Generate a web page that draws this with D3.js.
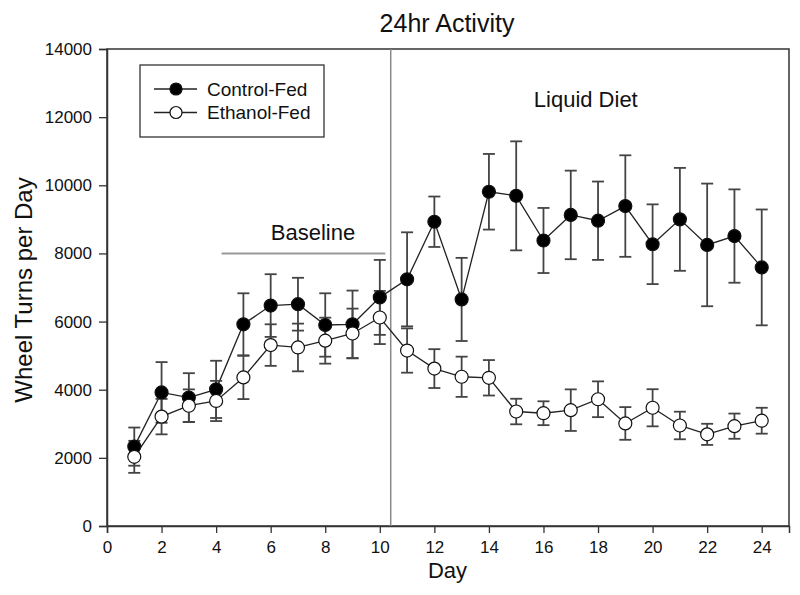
<!DOCTYPE html>
<html>
<head>
<meta charset="utf-8">
<script src="https://cdn.jsdelivr.net/npm/d3@7"></script>
<style>
  body { margin: 0; background: #fff; }
  text { font-family: "Liberation Sans", Arial, sans-serif; fill: #111; }
</style>
</head>
<body>
<div id="chart"></div>
<script>
// Days 1..24
const days = d3.range(1, 25);

// Control-Fed means and SEM (wheel turns per day)
const controlMean = [2330, 3920, 3770, 4010, 5920, 6470, 6510, 5900, 5920, 6710,
                     7240, 8930, 6650, 9810, 9690, 8380, 9130, 8960, 9390, 8270,
                     9000, 8250, 8510, 7590];
const controlErr  = [560, 890, 715, 840, 910, 920, 775, 930, 990, 1100,
                     1380, 740, 1220, 1110, 1600, 955, 1300, 1150, 1490, 1170,
                     1510, 1800, 1370, 1700];

// Ethanol-Fed means and SEM
const ethanolMean = [2030, 3210, 3530, 3670, 4360, 5310, 5240, 5440, 5650, 6120,
                     5150, 4620, 4380, 4350, 3360, 3310, 3400, 3720, 3010, 3470,
                     2950, 2690, 2930, 3090];
const ethanolErr  = [470, 520, 480, 590, 635, 610, 700, 675, 730, 780,
                     650, 570, 590, 520, 375, 350, 610, 525, 480, 545,
                     405, 310, 370, 380];

const xTicks = d3.range(0, 25, 2);
const yTicks = d3.range(0, 14001, 2000);

const width = 800, height = 595;
const margin = { top: 49, right: 11, bottom: 69, left: 107 };

const svg = d3.select('#chart').append('svg')
    .attr('width', width)
    .attr('height', height);

const x = d3.scaleLinear().domain([0, 25]).range([margin.left, width - margin.right]);
const y = d3.scaleLinear().domain([0, 14000]).range([height - margin.bottom, margin.top]);

// Frame
svg.append('rect')
    .attr('x', x(0)).attr('y', y(14000))
    .attr('width', x(25) - x(0)).attr('height', y(0) - y(14000))
    .attr('fill', 'none').attr('stroke', '#333').attr('stroke-width', 1.5);

// Axes
const xAxis = svg.append('g')
    .attr('transform', `translate(0,${y(0)})`)
    .call(d3.axisBottom(x).tickValues(xTicks).tickSize(7).tickPadding(8).tickFormat(d3.format('d')));
const yAxis = svg.append('g')
    .attr('transform', `translate(${x(0)},0)`)
    .call(d3.axisLeft(y).tickValues(yTicks).tickSize(8).tickPadding(7).tickFormat(d3.format('d')));
[xAxis, yAxis].forEach(g => {
    g.select('.domain').attr('stroke', '#333').attr('stroke-width', 1.5);
    g.selectAll('.tick line').attr('stroke', '#333').attr('stroke-width', 1.3);
    g.selectAll('.tick text').attr('font-size', '17px').attr('fill', '#111')
        .attr('font-family', '"Liberation Sans", Arial, sans-serif');
});

// Diet switch marker and baseline bar
svg.append('line')
    .attr('x1', x(10.4)).attr('x2', x(10.4))
    .attr('y1', y(0)).attr('y2', y(14000))
    .attr('stroke', '#888').attr('stroke-width', 1.5);

svg.append('line')
    .attr('x1', x(4.2)).attr('x2', x(10.2))
    .attr('y1', y(8000)).attr('y2', y(8000))
    .attr('stroke', '#999').attr('stroke-width', 2);

svg.append('text')
    .attr('x', x(7.55)).attr('y', 240)
    .attr('text-anchor', 'middle').attr('font-size', '22px')
    .text('Baseline');

svg.append('text')
    .attr('x', x(17.55)).attr('y', 107)
    .attr('text-anchor', 'middle').attr('font-size', '22px')
    .text('Liquid Diet');

// Series
const series = [
    { name: 'Control-Fed', mean: controlMean, err: controlErr, fill: '#000' },
    { name: 'Ethanol-Fed', mean: ethanolMean, err: ethanolErr, fill: '#fff' }
];

const capW = 6;
series.forEach(s => {
    const pts = days.map((d, i) => ({ day: d, v: s.mean[i], e: s.err[i] }));
    const g = svg.append('g');

    // error bars
    const eb = g.selectAll('g.err').data(pts).enter().append('g');
    eb.append('line')
        .attr('x1', d => x(d.day)).attr('x2', d => x(d.day))
        .attr('y1', d => y(d.v + d.e)).attr('y2', d => y(d.v - d.e))
        .attr('stroke', '#444').attr('stroke-width', 1.8);
    eb.append('line')
        .attr('x1', d => x(d.day) - capW).attr('x2', d => x(d.day) + capW)
        .attr('y1', d => y(d.v + d.e)).attr('y2', d => y(d.v + d.e))
        .attr('stroke', '#444').attr('stroke-width', 1.8);
    eb.append('line')
        .attr('x1', d => x(d.day) - capW).attr('x2', d => x(d.day) + capW)
        .attr('y1', d => y(d.v - d.e)).attr('y2', d => y(d.v - d.e))
        .attr('stroke', '#444').attr('stroke-width', 1.8);

    // line
    g.append('path')
        .datum(pts)
        .attr('fill', 'none').attr('stroke', '#222').attr('stroke-width', 1.3)
        .attr('d', d3.line().x(d => x(d.day)).y(d => y(d.v)));
});

// markers on top
series.forEach(s => {
    svg.append('g').selectAll('circle')
        .data(days.map((d, i) => ({ day: d, v: s.mean[i] })))
        .enter().append('circle')
        .attr('cx', d => x(d.day)).attr('cy', d => y(d.v))
        .attr('r', 6.5)
        .attr('fill', s.fill).attr('stroke', '#111').attr('stroke-width', 1.2);
});

// Legend
const legend = svg.append('g');
legend.append('rect')
    .attr('x', 140).attr('y', 65).attr('width', 184).attr('height', 72)
    .attr('fill', '#fff').attr('stroke', '#333').attr('stroke-width', 1.3);
series.forEach((s, i) => {
    const ly = 89 + i * 23.5;
    legend.append('line')
        .attr('x1', 154).attr('x2', 197).attr('y1', ly).attr('y2', ly)
        .attr('stroke', '#222').attr('stroke-width', 1.3);
    legend.append('circle')
        .attr('cx', 176).attr('cy', ly).attr('r', 6)
        .attr('fill', s.fill).attr('stroke', '#111').attr('stroke-width', 1.2);
    legend.append('text')
        .attr('x', 207).attr('y', ly + 6.5)
        .attr('font-size', '19px')
        .text(s.name);
});

// Titles
svg.append('text')
    .attr('x', 447).attr('y', 32)
    .attr('text-anchor', 'middle').attr('font-size', '25px')
    .text('24hr Activity');

svg.append('text')
    .attr('x', 447.5).attr('y', 578)
    .attr('text-anchor', 'middle').attr('font-size', '22px')
    .text('Day');

svg.append('text')
    .attr('transform', `translate(32,290) rotate(-90)`)
    .attr('text-anchor', 'middle').attr('font-size', '24px')
    .text('Wheel Turns per Day');
</script>
</body>
</html>
